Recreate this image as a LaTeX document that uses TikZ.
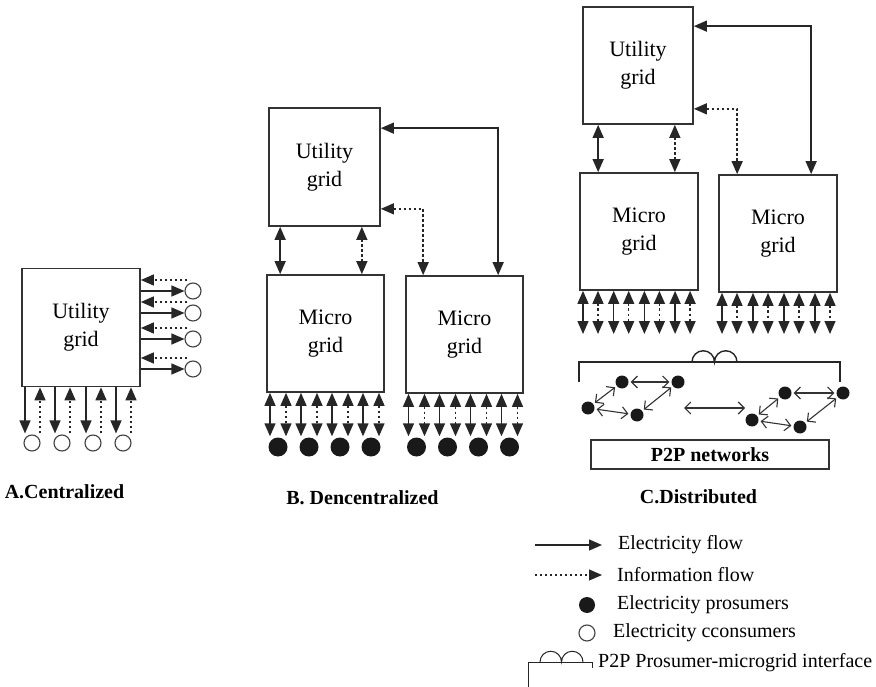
\documentclass[tikz,border=0pt]{standalone}
\usepackage{fontspec}
\setmainfont{Liberation Serif}
\usetikzlibrary{arrows.meta,positioning,calc}

\tikzset{
  >={Triangle[length=13pt,width=11pt]},
  gridbox/.style={draw=black!80,line width=1.7pt,align=center,inner sep=0pt,font=\fontsize{22}{28}\selectfont},
  eflow/.style={line width=1.4pt,draw=black!85},
  iflow/.style={eflow,dash pattern=on 2.4pt off 2.6pt},
  cons/.style={circle,draw=black!75,line width=1.1pt,minimum size=16pt,inner sep=0pt},
  pros/.style={circle,fill=black!90,minimum size=19pt,inner sep=0pt},
  peer/.style={circle,fill=black!90,minimum size=13pt,inner sep=0pt},
  p2p/.style={{Straight Barb[length=6pt,width=12pt]}-{Straight Barb[length=6pt,width=12pt]},line width=1.1pt,draw=black!80,shorten <=2pt,shorten >=2pt},
  casename/.style={font=\fontsize{20}{24}\selectfont\bfseries},
  legtext/.style={anchor=west,inner sep=0pt,font=\fontsize{20}{24}\selectfont},
}

\begin{document}
\begin{tikzpicture}[x=1pt,y=-1pt]
\useasboundingbox (0,0) rectangle (876,687);

% A. Centralized
\node[gridbox,minimum width=118pt,minimum height=118pt] (uA) at (81,327.5) {Utility\\grid};
\foreach \y [count=\i] in {291,313,339,369}{
  \node[cons] (cR\i) at (193,\y) {};
  \draw[eflow,->] (uA.east |- cR\i.west) -- (cR\i.west);
  \draw[iflow,->] ($(cR\i.west)+(3,-11)$) -- ($(uA.east |- cR\i.west)+(0,-11)$);
}
\foreach \x [count=\i] in {32,62,93,123}{
  \node[cons] (cD\i) at (\x,443) {};
  \draw[eflow,->] ($(uA.south -| cD\i.north)+(-7,0)$) -- ($(cD\i.north)+(-7,-1)$);
  \draw[iflow,->] ($(cD\i.north)+(8,-1)$) -- ($(uA.south -| cD\i.north)+(8,0)$);
}
\node[casename] (labA) at (64.5,492) {A.Centralized};

% B. Decentralized
\node[gridbox,minimum width=111pt,minimum height=118pt] (uB) at (324.5,167) {Utility\\grid};
\node[gridbox,minimum width=117pt,minimum height=117pt] (mB1) at (325.5,333.5) {Micro\\grid};
\node[gridbox,minimum width=117pt,minimum height=117pt] (mB2) at (464.5,334.5) {Micro\\grid};
\draw[eflow,<->] ($(uB.south west)+(12,0)$) -- ($(mB1.north west)+(14,0)$);
\draw[iflow,<->] ($(uB.south east)+(-19,0)$) -- ($(mB1.north east)+(-23,0)$);
\draw[iflow,<->] ($(uB.south east)+(0,-18)$) -| ($(mB2.north west)+(18,0)$);
\draw[eflow,<->] ($(uB.north east)+(0,21)$) -| ($(mB2.north west)+(93,0)$);
\foreach \k in {0,...,3}{
  \node[pros] (pL\k) at (278+31*\k,447) {};
  \node[pros] (pR\k) at (416.5+31*\k,447) {};
  \draw[eflow,<->] ($(mB1.south -| pL\k)+(-8,0)$) -- ($(pL\k.north)+(-8,-1)$);
  \draw[iflow,<->] ($(mB1.south -| pL\k)+(8,0)$) -- ($(pL\k.north)+(8,-1)$);
  \draw[eflow,<->] ($(mB2.south -| pR\k)+(-8,0)$) -- ($(pR\k.north)+(-8,-1)$);
  \draw[iflow,<->] ($(mB2.south -| pR\k)+(8,0)$) -- ($(pR\k.north)+(8,-1)$);
}
\node[casename] (labB) at (362.5,498) {B. Dencentralized};

% C. Distributed
\node[gridbox,minimum width=110pt,minimum height=117pt] (uC) at (638,65.5) {Utility\\grid};
\node[gridbox,minimum width=118pt,minimum height=117pt] (mC1) at (639,231.5) {Micro\\grid};
\node[gridbox,minimum width=118pt,minimum height=117pt] (mC2) at (778,233.5) {Micro\\grid};
\draw[eflow,<->] ($(uC.south west)+(16,0)$) -- ($(mC1.north west)+(19,0)$);
\draw[iflow,<->] ($(uC.south east)+(-19,0)$) -- ($(mC1.north east)+(-24,0)$);
\draw[iflow,<->] ($(uC.south east)+(0,-16)$) -| ($(mC2.north west)+(19,0)$);
\draw[eflow,<->] ($(uC.north east)+(0,20)$) -| ($(mC2.north west)+(93,0)$);
\foreach \k in {0,...,3}{
  \coordinate (tL\k) at (590.5+30.7*\k,334);
  \coordinate (tR\k) at (729.5+31*\k,334);
  \draw[eflow,<->] ($(mC1.south -| tL\k)+(-7.5,0)$) -- ($(tL\k)+(-7.5,0)$);
  \draw[iflow,<->] ($(mC1.south -| tL\k)+(7.5,0)$) -- ($(tL\k)+(7.5,0)$);
  \draw[eflow,<->] ($(mC2.south -| tR\k)+(-7.5,0)$) -- ($(tR\k)+(-7.5,0)$);
  \draw[iflow,<->] ($(mC2.south -| tR\k)+(7.5,0)$) -- ($(tR\k)+(7.5,0)$);
}

% P2P interface and networks
\draw[eflow] (579,382) -- (579,362) -- (840,362) -- (840,382);
\draw[eflow] (692,362) arc[start angle=180,end angle=0,radius=11.25pt]
                       arc[start angle=180,end angle=0,radius=11.25pt];
\node[peer] (a1) at (588,408) {};
\node[peer] (a2) at (622,382) {};
\node[peer] (a3) at (678,382) {};
\node[peer] (a4) at (637,415) {};
\node[peer] (b1) at (752,420) {};
\node[peer] (b2) at (785,393) {};
\node[peer] (b3) at (843,393) {};
\node[peer] (b4) at (800,427) {};
\draw[p2p] (a1) -- (a2);
\draw[p2p] (a1) -- (a4);
\draw[p2p] (a2) -- (a3);
\draw[p2p] (a4) -- (a3);
\draw[p2p] (b1) -- (b2);
\draw[p2p] (b1) -- (b4);
\draw[p2p] (b2) -- (b3);
\draw[p2p] (b4) -- (b3);
\coordinate (mid1) at (682,408);
\coordinate (mid2) at (747,408);
\draw[p2p] (mid1) -- (mid2);
\node[draw=black!80,line width=1.6pt,minimum width=238pt,minimum height=29pt,inner sep=0pt,font=\fontsize{20}{24}\selectfont\bfseries] (net) at (710,454.5) {P2P networks};
\node[casename] (labC) at (698.5,497) {C.Distributed};

% Legend
\coordinate (le1) at (535,545);
\coordinate (le2) at (602,545);
\draw[eflow,->] (le1) -- (le2);
\node[legtext] (te) at (618,545) {Electricity flow};
\coordinate (li1) at (535,575);
\coordinate (li2) at (602,575);
\draw[iflow,line width=1.1pt,->] (li1) -- (li2);
\node[legtext] (ti) at (617,575) {Information flow};
\node[pros,minimum size=16pt] (lp) at (587,605) {};
\node[legtext] (tp) at (617,605) {Electricity prosumers};
\node[cons] (lc) at (587,633) {};
\node[legtext] (tc) at (613,633) {Electricity cconsumers};
\draw[eflow,line width=1pt] (528,687) -- (528,662) -- (592,662) -- (592,668);
\draw[eflow,line width=1pt] (540,662) arc[start angle=180,end angle=0,radius=10.75pt]
                                      arc[start angle=180,end angle=0,radius=10.75pt];
\node[legtext] (tb) at (598,663) {P2P Prosumer-microgrid interface};
\end{tikzpicture}
\end{document}
